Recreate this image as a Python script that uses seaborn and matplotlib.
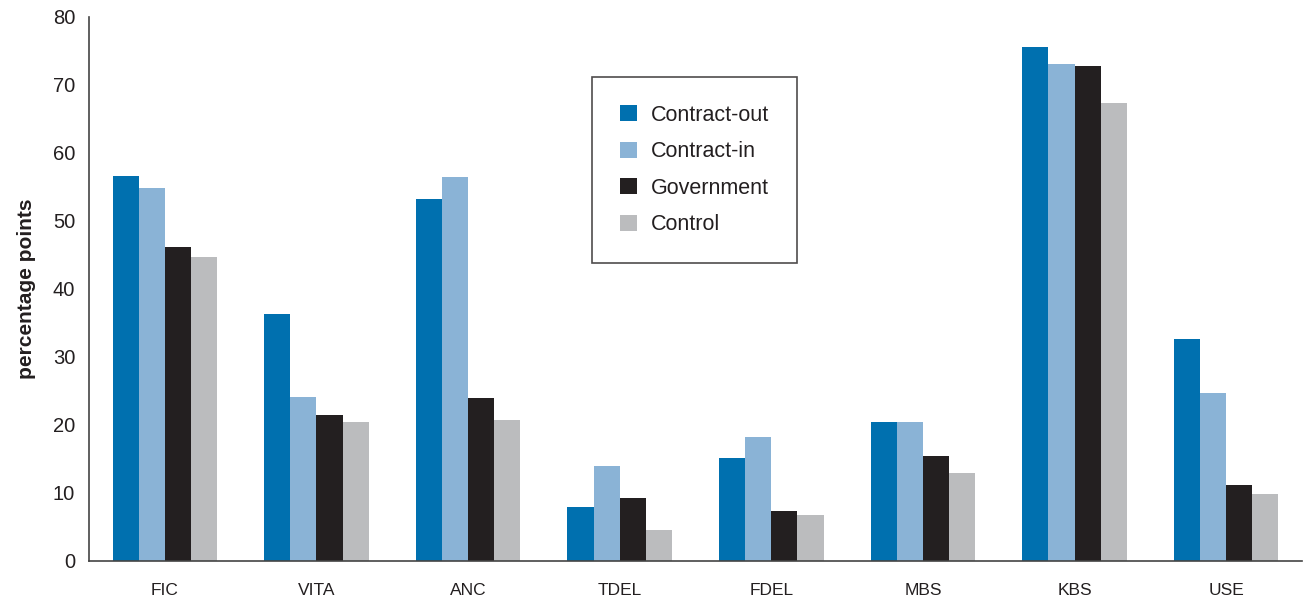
import numpy as np
import pandas as pd
import matplotlib
matplotlib.use("Agg")
import matplotlib.pyplot as plt
import seaborn as sns

# values
indicators = ["FIC", "VITA", "ANC", "TDEL", "FDEL", "MBS", "KBS", "USE"]
groups = ["Contract-out", "Contract-in", "Government", "Control"]
contract_out = [56.6, 36.3, 53.3, 8.0, 15.1, 20.4, 75.6, 32.7]
contract_in = [54.8, 24.1, 56.5, 14.0, 18.3, 20.4, 73.1, 24.7]
government = [46.2, 21.5, 23.9, 9.3, 7.4, 15.4, 72.8, 11.2]
control = [44.7, 20.4, 20.8, 4.6, 6.7, 13.0, 67.4, 9.9]
colors = ["#0070AF", "#8AB3D6", "#231F20", "#BBBCBE"]

sns.set_theme(style="white")
plt.rcParams["font.family"] = ["Liberation Sans", "DejaVu Sans"]

rows = []
for g, vals in zip(groups, [contract_out, contract_in, government, control]):
    for ind, v in zip(indicators, vals):
        rows.append({"indicator": ind, "group": g, "value": v})
df = pd.DataFrame(rows)

fig = plt.figure(figsize=(13.07, 6.01), dpi=100)
ax = fig.add_axes([89 / 1307, 40 / 601, 1213 / 1307, 544 / 601])

sns.barplot(data=df, x="indicator", y="value", hue="group", order=indicators,
            hue_order=groups, palette=colors, width=0.69, saturation=1,
            edgecolor="none", linewidth=0, ax=ax)

ax.set_xlim(-0.5, len(indicators) - 0.5)
ax.set_ylim(0, 80)
ax.set_yticks(np.arange(0, 81, 10))
ax.set_xticks(np.arange(len(indicators)))
ax.set_xticklabels(indicators)
ax.set_xticks(np.arange(-0.5, len(indicators)), minor=True)
ax.tick_params(axis="x", which="major", length=0, pad=16, labelsize=12.5, colors="#231F20")
ax.tick_params(axis="x", which="minor", length=7, width=1.2, direction="out", color="#444444")
ax.tick_params(axis="y", length=6, width=1.2, direction="out", color="#444444",
               labelsize=14.5, pad=4, labelcolor="#231F20")
ax.set_xlabel("")
ax.set_ylabel("percentage points", fontsize=15, fontweight="bold", labelpad=12, color="#231F20")

for side in ["top", "right"]:
    ax.spines[side].set_visible(False)
for side in ["left", "bottom"]:
    ax.spines[side].set_color("#444444")
    ax.spines[side].set_linewidth(1.2)

handles, labels = ax.get_legend_handles_labels()
leg = ax.legend(handles, labels, loc="upper left", bbox_to_anchor=(0.415, 0.89),
                frameon=True, fancybox=False, fontsize=15.5, handlelength=0.75,
                handleheight=0.75, handletextpad=0.65, labelspacing=0.72,
                borderpad=1.3, borderaxespad=0)
leg.get_frame().set_edgecolor("#231F20")
leg.get_frame().set_linewidth(1.2)
for t in leg.get_texts():
    t.set_color("#231F20")

fig.savefig("out.png", dpi=100, facecolor="white")
